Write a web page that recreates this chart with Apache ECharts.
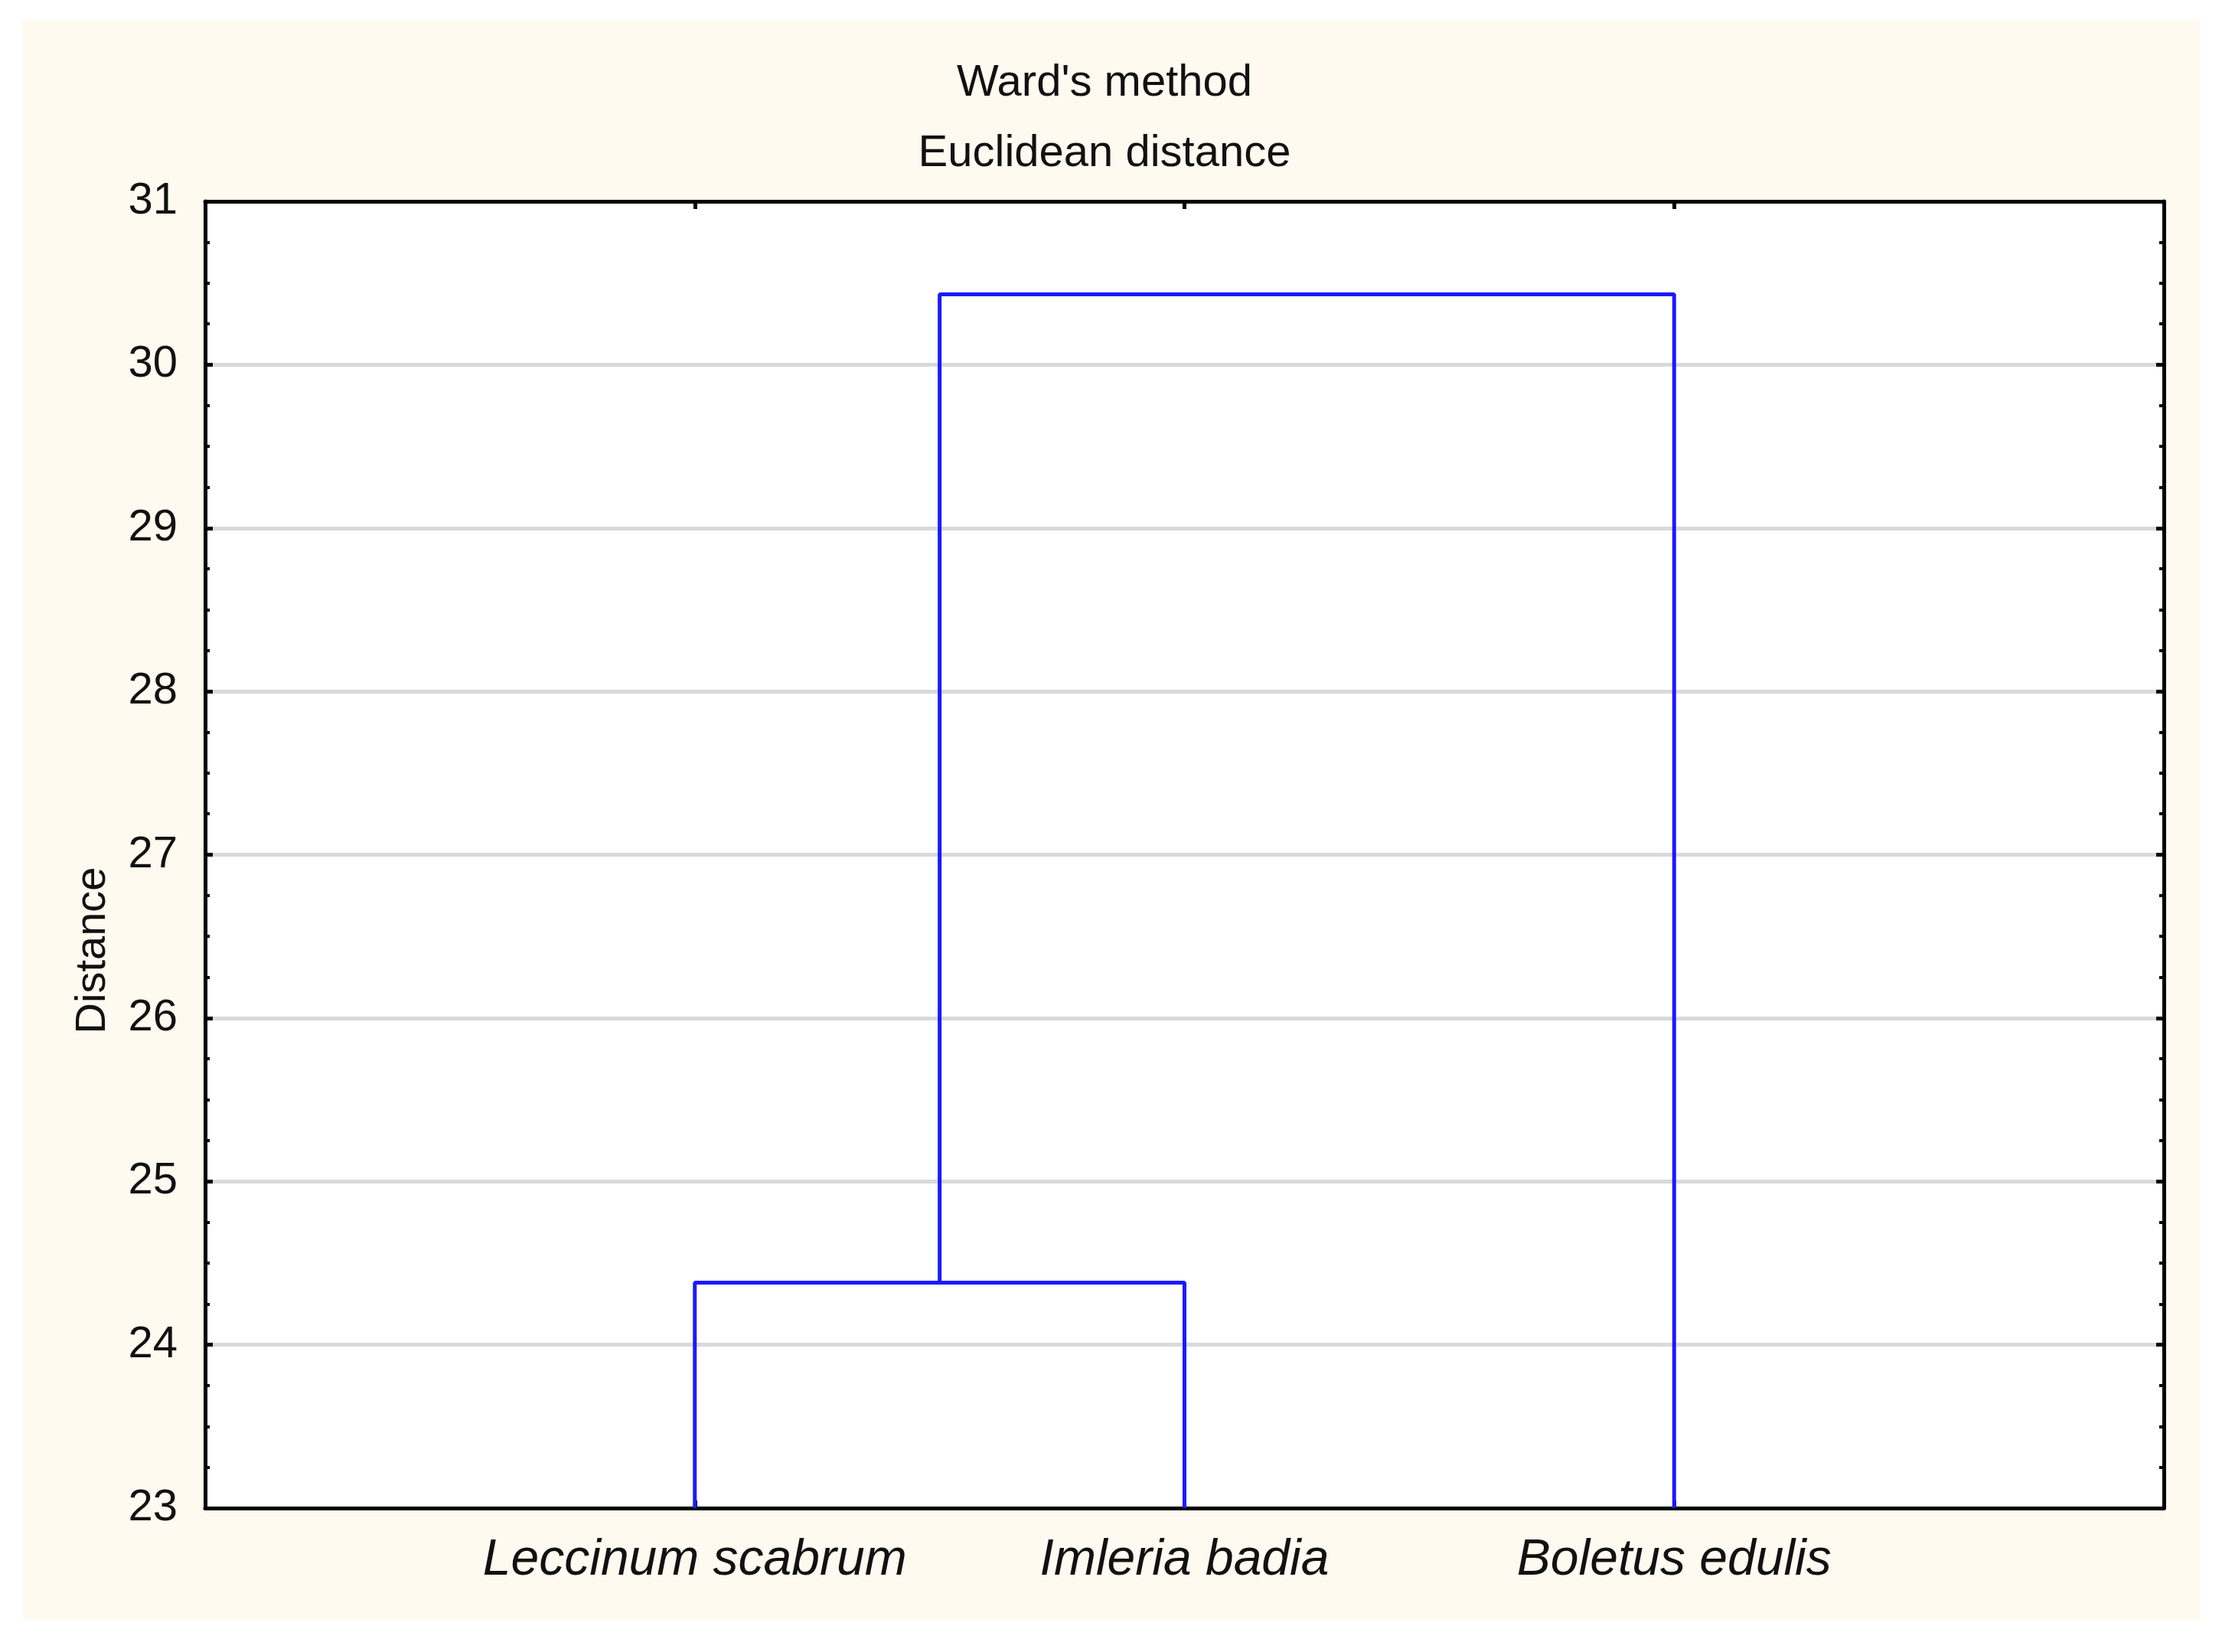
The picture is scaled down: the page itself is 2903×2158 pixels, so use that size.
<!DOCTYPE html>
<html>
<head>
<meta charset="utf-8">
<script src="https://cdn.jsdelivr.net/npm/echarts@6/dist/echarts.min.js"></script>
<style>
  html, body { margin: 0; padding: 0; background: #fff; }
  #chart { width: 2903px; height: 2158px; }
</style>
</head>
<body>
<div id="chart"></div>
<script>
// leaf order along the axis
const leafNames = ['Leccinum scabrum', 'Imleria badia', 'Boletus edulis'];
const leafPos = [1, 2, 3];

// merges: left branch x / start, right branch x / start, linkage height
const mergeLeftX = [1, 1.5];
const mergeLeftFrom = [23, 24.38];
const mergeRightX = [2, 3];
const mergeRightFrom = [23, 23];
const mergeHeight = [24.38, 30.43];

const chart = echarts.init(document.getElementById('chart'));

const series = mergeHeight.map((h, i) => ({
    type: 'line',
    xAxisIndex: 0,
    yAxisIndex: 0,
    symbol: 'none',
    silent: true,
    lineStyle: { color: '#1a1aff', width: 5 },
    data: [
        [mergeLeftX[i], mergeLeftFrom[i]],
        [mergeLeftX[i], h],
        [mergeRightX[i], h],
        [mergeRightX[i], mergeRightFrom[i]]
    ]
}));

const font = 'Liberation Sans, Arial';
const frameLine = { onZero: false, show: true, lineStyle: { color: '#000', width: 5 } };
const majorTick = { show: true, inside: true, length: 10, lineStyle: { color: '#000', width: 5 } };

chart.setOption({
    backgroundColor: '#ffffff',
    animation: false,
    graphic: [{
        type: 'rect',
        z: -10,
        shape: { x: 30, y: 26, width: 2845, height: 2090 },
        style: { fill: '#fffaf0' }
    }],
    title: {
        text: "Ward's method\nEuclidean distance",
        left: 1438,
        textAlign: 'center',
        top: 58,
        textStyle: { fontFamily: font, fontSize: 58, fontWeight: 'normal', color: '#111', lineHeight: 92 }
    },
    grid: { left: 268, right: 76, top: 263, bottom: 188, backgroundColor: '#ffffff', show: true, borderWidth: 0 },
    xAxis: [{
        type: 'value',
        min: 0,
        max: 4,
        position: 'bottom',
        axisLine: frameLine,
        axisTick: Object.assign({ customValues: leafPos }, majorTick),
        axisLabel: {
            customValues: leafPos,
            formatter: v => leafNames[leafPos.indexOf(Math.round(v))] || '',
            fontFamily: font, fontSize: 66, fontStyle: 'italic', color: '#111', margin: 36
        },
        splitLine: { show: false }
    }, {
        type: 'value',
        min: 0,
        max: 4,
        position: 'top',
        axisLine: frameLine,
        axisTick: Object.assign({ customValues: leafPos }, majorTick),
        axisLabel: { show: false },
        splitLine: { show: false }
    }],
    yAxis: [{
        type: 'value',
        min: 23,
        max: 31,
        interval: 1,
        position: 'left',
        name: 'Distance',
        nameLocation: 'middle',
        nameGap: 118,
        nameTextStyle: { fontFamily: font, fontSize: 56, color: '#111', padding: [0, 0, 0, -250] },
        axisLine: frameLine,
        axisTick: majorTick,
        minorTick: { show: true, splitNumber: 4, length: 6, lineStyle: { color: '#000', width: 4 } },
        axisLabel: { margin: 36, color: '#111', fontFamily: font, fontSize: 58 },
        splitLine: { show: true, lineStyle: { color: '#d9d9d9', width: 5 } }
    }, {
        type: 'value',
        min: 23,
        max: 31,
        interval: 1,
        position: 'right',
        axisLine: frameLine,
        axisTick: majorTick,
        minorTick: { show: true, splitNumber: 4, length: 6, lineStyle: { color: '#000', width: 4 } },
        axisLabel: { show: false },
        splitLine: { show: false }
    }],
    series: series
});
</script>
</body>
</html>
